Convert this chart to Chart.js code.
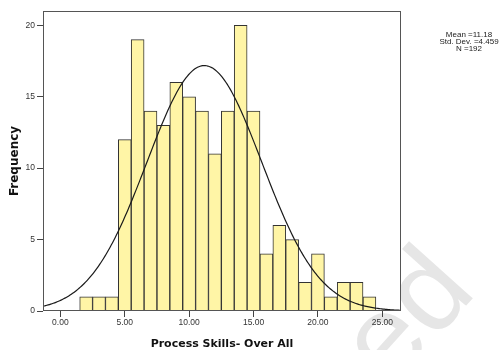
<!DOCTYPE html>
<html>
<head>
<meta charset="utf-8">
<script src="https://cdn.jsdelivr.net/npm/chart.js@4.4.1/dist/chart.umd.min.js"></script>
<style>
  html, body { margin: 0; padding: 0; background: #ffffff; }
  #chart { display: block; }
</style>
</head>
<body>
<canvas id="chart" width="499" height="350"></canvas>
<script>
// Histogram of overall process-skill scores (bins of width 1)
const binCenters = [2, 3, 4, 5, 6, 7, 8, 9, 10, 11, 12, 13, 14, 15, 16, 17, 18, 19, 20, 21, 22, 23, 24];
const frequencies = [1, 1, 1, 12, 19, 14, 13, 16, 15, 14, 11, 14, 20, 14, 4, 6, 5, 2, 4, 1, 2, 2, 1];

// Summary statistics shown beside the chart
const meanValue = 11.18;
const stdDev = 4.459;
const sampleSize = 192;
const binWidth = 1;

// Axis tick values
const xTickValues = [0, 5, 10, 15, 20, 25];
const yTickValues = [0, 5, 10, 15, 20];
const xMin = -1.35, xMax = 26.45;
const yMin = 0, yMax = 21;

// Fitted normal curve scaled to counts
const curvePoints = [];
for (let i = 0; i <= 278; i++) {
  const x = xMin + (xMax - xMin) * i / 278;
  const z = (x - meanValue) / stdDev;
  const y = sampleSize * binWidth / (stdDev * Math.sqrt(2 * Math.PI)) * Math.exp(-0.5 * z * z);
  curvePoints.push({ x, y });
}

const summaryLines = [
  'Mean =' + meanValue.toFixed(2),
  'Std. Dev. =' + stdDev.toFixed(3),
  'N =' + sampleSize
];

const tickFont = { family: "'Liberation Sans', Arial, sans-serif", size: 8.5 };
const titleFontX = { family: "'DejaVu Sans', sans-serif", size: 11, weight: 'bold', lineHeight: 1 };
const titleFontY = { family: "'DejaVu Sans', sans-serif", size: 12, weight: 'bold', lineHeight: 1 };

const decorations = {
  id: 'decorations',
  beforeDraw(chart) {
    const ctx = chart.ctx;
    ctx.save();
    ctx.translate(390, 390);
    ctx.rotate(-48 * Math.PI / 180);
    ctx.font = "118px 'Liberation Sans', Arial, sans-serif";
    ctx.fillStyle = '#e6e6e6';
    ctx.textBaseline = 'alphabetic';
    ctx.textAlign = 'left';
    ctx.fillText('ed', 0, 0);
    ctx.restore();
  },
  beforeDatasetsDraw(chart) {
    // plot area keeps a plain white background
    const { ctx, chartArea: a } = chart;
    ctx.save();
    ctx.fillStyle = '#ffffff';
    ctx.fillRect(a.left, a.top, a.right - a.left, a.bottom - a.top);
    ctx.restore();
  },
  afterDatasetsDraw(chart) {
    const { ctx, chartArea: a } = chart;
    ctx.save();
    ctx.strokeStyle = '#555555';
    ctx.lineWidth = 1;
    ctx.strokeRect(Math.round(a.left) + 0.5, Math.round(a.top) + 0.5,
      Math.round(a.right - a.left) - 1, Math.round(a.bottom - a.top) - 1);
    ctx.restore();
  },
  afterDraw(chart) {
    const ctx = chart.ctx;
    ctx.save();
    ctx.font = "8px 'Liberation Sans', Arial, sans-serif";
    ctx.fillStyle = '#222222';
    ctx.textAlign = 'center';
    ctx.textBaseline = 'alphabetic';
    summaryLines.forEach((t, i) => ctx.fillText(t, 469, 36.7 + i * 7));
    ctx.restore();
  }
};

new Chart(document.getElementById('chart'), {
  type: 'bar',
  data: {
    datasets: [
      {
        type: 'line',
        data: curvePoints,
        borderColor: '#1a1a1a',
        borderWidth: 1.2,
        pointRadius: 0,
        fill: false,
        tension: 0,
        order: 0
      },
      {
        type: 'bar',
        data: binCenters.map((x, i) => ({ x, y: frequencies[i] })),
        backgroundColor: '#fff5a6',
        borderColor: '#333333',
        borderWidth: 1,
        barPercentage: 1,
        categoryPercentage: 1,
        order: 1
      }
    ]
  },
  options: {
    responsive: false,
    devicePixelRatio: 1,
    animation: false,
    layout: { padding: { left: 0, right: 98, top: 11, bottom: 0 } },
    plugins: { legend: { display: false }, tooltip: { enabled: false } },
    scales: {
      x: {
        type: 'linear',
        min: xMin,
        max: xMax,
        offset: false,
        afterBuildTicks: s => { s.ticks = xTickValues.map(v => ({ value: v })); },
        afterFit: s => { s.height = 39; },
        ticks: {
          font: tickFont, color: '#333333', padding: 1,
          maxRotation: 0, autoSkip: false,
          callback: v => Number(v).toFixed(2)
        },
        grid: { drawOnChartArea: false, drawTicks: true, tickLength: 6, color: '#444444', offset: false },
        border: { display: false },
        title: {
          display: true, text: 'Process Skills- Over All',
          font: titleFontX, color: '#111111', padding: { top: 0, bottom: 0.5 }
        }
      },
      y: {
        type: 'linear',
        min: yMin,
        max: yMax,
        afterBuildTicks: s => { s.ticks = yTickValues.map(v => ({ value: v })); },
        afterFit: s => { s.width = 43; },
        ticks: { font: tickFont, color: '#333333', padding: 2 },
        grid: { drawOnChartArea: false, drawTicks: true, tickLength: 6, color: '#444444' },
        border: { display: false },
        title: {
          display: true, text: 'Frequency',
          font: titleFontY, color: '#111111', padding: { top: 8.5, bottom: 0 }
        }
      }
    }
  },
  plugins: [decorations]
});
</script>
</body>
</html>
